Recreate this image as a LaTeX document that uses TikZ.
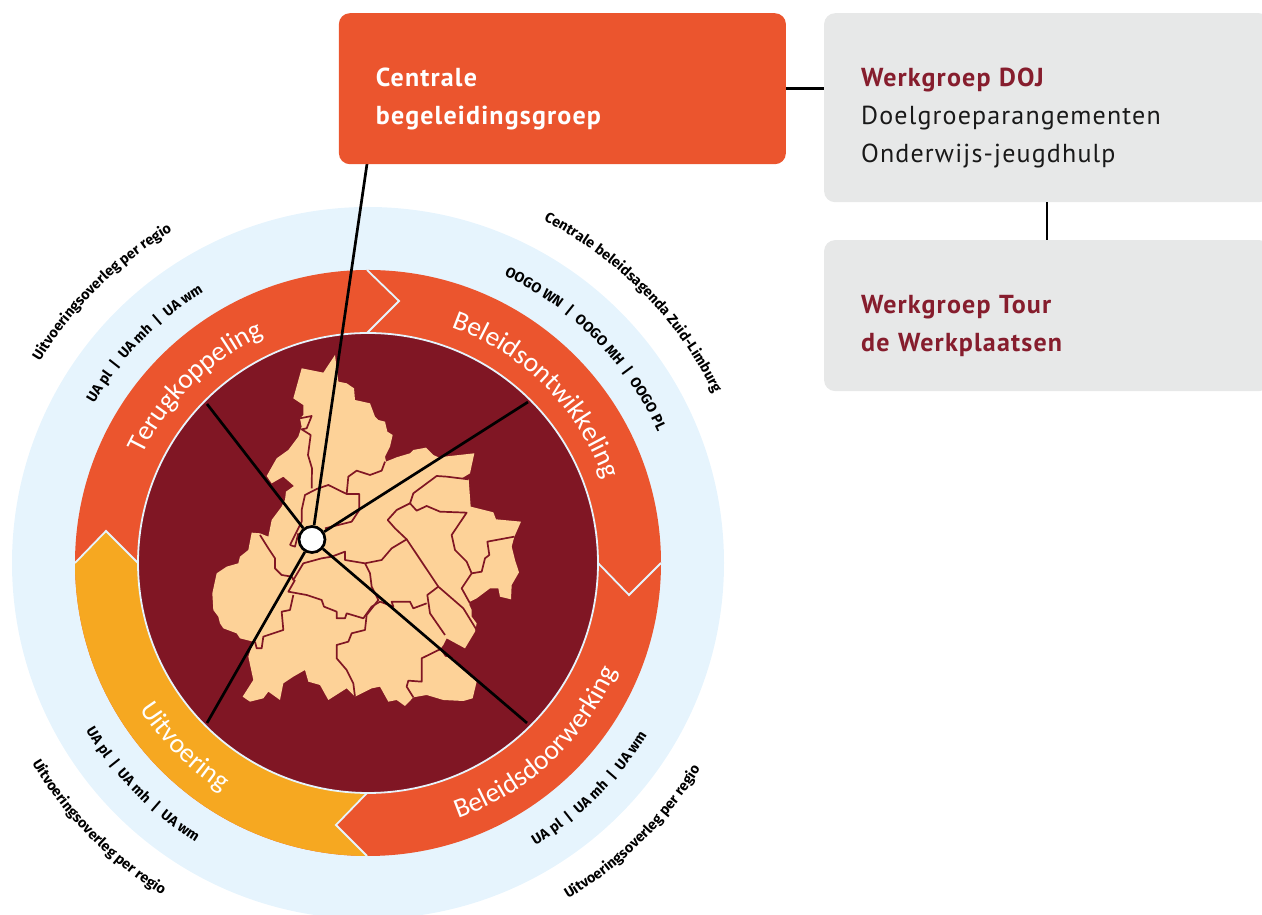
\documentclass[tikz,border=0pt]{standalone}
\usepackage{fontspec}
\usepackage{xcolor}
\usetikzlibrary{positioning}
\usetikzlibrary{calc}
\usetikzlibrary{decorations.text}
\setmainfont{PT Sans}
\newfontfamily\boxfont[LetterSpace=4.5]{PT Sans}
\newfontfamily\ringfont{Carlito}
\newfontfamily\ringbold{Fira Sans}
\definecolor{ringsky}{HTML}{E6F4FD}
\definecolor{ringorange}{HTML}{EB552E}
\definecolor{ringyellow}{HTML}{F6A821}
\definecolor{ringwine}{HTML}{801624}
\definecolor{mapsand}{HTML}{FDD298}
\definecolor{boxgray}{HTML}{E7E8E8}
\definecolor{titlered}{HTML}{861D2D}
\newcommand{\ringbig}{\ringfont\fontsize{27.5}{27.5}\selectfont\color{white}}
\newcommand{\ringsmall}{\ringbold\bfseries\fontsize{14.3}{14.3}\selectfont\color{black}}
\tikzset{blackline/.style={line width=2.7pt, black}}
\tikzset{chevron/.style={line width=1.8pt, draw=ringsky}}
\tikzset{mapline/.style={line width=1.7pt, draw=ringwine, line join=round}}
\tikzset{hubdot/.style={circle, fill=white, draw=black, line width=2.7pt, minimum size=26pt, inner sep=0pt}}
\tikzset{boxbase/.style={rounded corners=11pt, inner xsep=37pt, inner ysep=0pt, align=left,
  font=\boxfont\fontsize{26}{38}\selectfont,
  execute at begin node={\rule{0pt}{73.5pt}}, execute at end node={\rule[-39.5pt]{0pt}{39.5pt}}}}
\tikzset{orangebox/.style={boxbase, fill=ringorange, text=white, text width=373pt}}
\tikzset{graybox/.style={boxbase, fill=boxgray, text=black!90, text width=372pt}}
\tikzset{curvelabel/.style 2 args={decorate, decoration={text along path, text align=center, text={|#1|#2}}}}
\newcommand{\uabar}{{\hspace*{7pt}\textbar\hspace*{7pt}}}

\begin{document}
\begin{tikzpicture}[x=1pt, y=1pt]
\useasboundingbox (0,0) rectangle (1262,915);
\coordinate (ctr) at (368,352);
% rings
\fill[ringsky] (ctr) circle[radius=356pt];
\fill[ringorange] (ctr) circle[radius=293pt];
\fill[ringyellow] (75,352) arc[start angle=180, end angle=270, radius=293pt] -- (336,90) -- (368,122)
  arc[start angle=270, end angle=180, radius=230pt] -- (106,384) -- cycle;
\draw[chevron] (367,645) -- (399,614) -- (367,582);
\draw[chevron] (598,352) -- (629,320) -- (661,352);
\draw[chevron] (367,122) -- (336,90) -- (367,59);
\draw[chevron] (75,352) -- (106,384) -- (138,352);
\filldraw[fill=ringwine, chevron] (ctr) circle[radius=230pt];
% map
\begin{scope}[x=0.33333pt, y=-0.33333pt, shift={(200pt,575pt)}]
\fill[mapsand] (405,45) -- (415,125) -- (440,130) -- (462,145) -- (465,180) -- (510,190) -- (525,230) -- (535,240)
  -- (555,245) -- (562,275) -- (578,285) -- (570,320) -- (555,350) -- (558,365) -- (590,352) -- (630,340) -- (640,330)
  -- (678,323) -- (700,345) -- (715,352) -- (823,340) -- (810,400) -- (785,415) -- (806,418) -- (812,500) -- (880,517)
  -- (888,538) -- (963,545) -- (943,590) -- (935,620) -- (945,660) -- (957,697) -- (935,735) -- (933,778) -- (900,770)
  -- (895,745) -- (870,745) -- (830,775) -- (810,785) -- (808,795) -- (815,810) -- (815,830) -- (830,850) -- (825,875)
  -- (795,925) -- (740,895) -- (730,915) -- (720,928) -- (735,950) -- (760,955) -- (790,990) -- (830,1025) -- (818,1075)
  -- (790,1083) -- (730,1080) -- (680,1065) -- (640,1072) -- (615,1098) -- (590,1080) -- (565,1085) -- (540,1040)
  -- (515,1045) -- (465,1070) -- (440,1045) -- (385,1080) -- (360,1035) -- (325,1025) -- (315,990) -- (280,1010)
  -- (250,1030) -- (240,1080) -- (205,1055) -- (190,1075) -- (150,1085) -- (128,1070) -- (160,1020) -- (145,950)
  -- (160,905) -- (120,895) -- (110,880) -- (70,865) -- (60,850) -- (55,830) -- (40,810) -- (37,760) -- (50,700)
  -- (80,680) -- (115,670) -- (120,650) -- (145,630) -- (155,578) -- (180,580) -- (205,590) -- (215,540) -- (245,500)
  -- (255,480) -- (258,455) -- (282,438) -- (250,410) -- (215,430) -- (200,408) -- (230,355) -- (265,330) -- (295,290)
  -- (305,260) -- (300,235) -- (310,225) -- (310,195) -- (280,175) -- (305,85) -- (370,98) -- cycle;
\draw[mapline] (300,235) -- (335,228) -- (320,265) -- (305,268) -- (332,285) -- (324,345) -- (336,385) -- (335,445);
\draw[mapline] (270,615) -- (300,555) -- (305,545) -- (305,510) -- (315,465) -- (350,447) -- (385,435) -- (440,462)
  -- (478,462) -- (478,510) -- (455,545) -- (375,565);
\draw[mapline] (270,615) -- (285,620) -- (295,580);
\draw[mapline] (440,462) -- (445,410) -- (470,392) -- (510,405) -- (545,392) -- (555,365);
\draw[mapline] (805,418) -- (740,410) -- (710,408) -- (640,460) -- (630,490) -- (590,510) -- (563,540) -- (585,565)
  -- (620,598) -- (575,625) -- (545,660) -- (495,670) -- (435,660) -- (435,635) -- (395,650) -- (365,655) -- (310,670)
  -- (280,720) -- (275,710) -- (245,705) -- (225,685) -- (225,655) -- (205,625) -- (180,585);
\draw[mapline] (630,490) -- (650,512) -- (680,498) -- (720,515) -- (800,518) -- (755,585) -- (765,630) -- (800,665)
  -- (815,700) -- (785,745) -- (810,790);
\draw[mapline] (815,700) -- (845,695) -- (855,655) -- (868,645) -- (862,605) -- (943,590);
\draw[mapline] (620,598) -- (715,740) -- (790,805) -- (830,870);
\draw[mapline] (715,740) -- (682,765) -- (690,820) -- (735,885);
\draw[mapline] (495,670) -- (510,700) -- (515,740) -- (535,780) -- (500,825) -- (495,870) -- (455,880) -- (445,905)
  -- (410,915) -- (410,955) -- (440,990) -- (460,1030) -- (465,1070);
\draw[mapline] (285,720) -- (265,755) -- (320,765) -- (365,780) -- (372,800) -- (410,815) -- (410,835) -- (435,835)
  -- (440,820) -- (490,835) -- (515,800) -- (540,785) -- (580,800) -- (575,785) -- (630,785) -- (640,805) -- (680,790);
\draw[mapline] (280,765) -- (270,810) -- (245,815) -- (250,870) -- (190,890) -- (185,925) -- (170,925) -- (165,905);
\draw[mapline] (720,928) -- (665,955) -- (665,1025) -- (625,1022) -- (620,1040) -- (640,1072);
\end{scope}
% spokes
\node[hubdot] (hub) at (312,375.5) {};
\coordinate (e1) at (367,751);
\coordinate (e2) at (528,513);
\coordinate (e3) at (527,192);
\coordinate (e4) at (207,192);
\coordinate (e5) at (207,511);
\draw[blackline] (hub) -- (e1);
\draw[blackline] (hub) -- (e2);
\draw[blackline] (hub) -- (e3);
\draw[blackline] (hub) -- (e4);
\draw[blackline] (hub) -- (e5);
% boxes
\node[orangebox, anchor=north west] (cbg) at (338.7,902) {\textbf{Centrale}\\\textbf{begeleidingsgroep}};
\node[graybox, right=37.8pt of cbg.north east, anchor=north west] (doj) {\textcolor{titlered}{\textbf{Werkgroep DOJ}}\\Doelgroeparangementen\\Onderwijs-jeugdhulp};
\node[graybox, below=37.5pt of doj] (tour) {\textcolor{titlered}{\textbf{Werkgroep Tour}}\\\textcolor{titlered}{\textbf{de Werkplaatsen}}};
\draw[blackline] (cbg.east) -- (cbg.east -| doj.west);
\draw[blackline] (doj) -- (tour);
% ring texts
\path[curvelabel={\ringbig}{Terugkoppeling}] ($(ctr)+(190:250pt)$) arc[start angle=190, end angle=79, radius=250pt];
\path[curvelabel={\ringbig}{Beleidsontwikkeling}] ($(ctr)+(100:250pt)$) arc[start angle=100, end angle=-10, radius=250pt];
\path[curvelabel={\ringbig}{Beleidsdoorwerking}] ($(ctr)+(-102:271pt)$) arc[start angle=-102, end angle=8, radius=271pt];
\path[curvelabel={\ringbig}{Uitvoering}] ($(ctr)+(170:271pt)$) arc[start angle=170, end angle=280, radius=271pt];
\path[curvelabel={\ringsmall}{UA pl\uabar UA mh\uabar UA wm}] ($(ctr)+(190:317pt)$) arc[start angle=190, end angle=81, radius=317pt];
\path[curvelabel={\ringsmall}{Uitvoeringsoverleg per regio}] ($(ctr)+(190:385pt)$) arc[start angle=190, end angle=79, radius=385pt];
\path[curvelabel={\ringsmall}{OOGO WN\uabar OOGO MH\uabar OOGO PL}] ($(ctr)+(100:318pt)$) arc[start angle=100, end angle=-11, radius=318pt];
\path[curvelabel={\ringsmall}{Centrale beleidsagenda Zuid-Limburg}] ($(ctr)+(100:385pt)$) arc[start angle=100, end angle=-11, radius=385pt];
\path[curvelabel={\ringsmall}{UA pl\uabar UA mh\uabar UA wm}] ($(ctr)+(-100:328pt)$) arc[start angle=-100, end angle=9, radius=328pt];
\path[curvelabel={\ringsmall}{Uitvoeringsoverleg per regio}] ($(ctr)+(-100:391pt)$) arc[start angle=-100, end angle=9, radius=391pt];
\path[curvelabel={\ringsmall}{UA pl\uabar UA mh\uabar UA wm}] ($(ctr)+(170:328pt)$) arc[start angle=170, end angle=279, radius=328pt];
\path[curvelabel={\ringsmall}{Uitvoeringsoverleg per regio}] ($(ctr)+(170:391pt)$) arc[start angle=170, end angle=279, radius=391pt];
\end{tikzpicture}
\end{document}
